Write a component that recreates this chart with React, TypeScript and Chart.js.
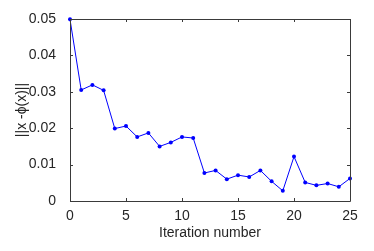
import React, { useEffect, useRef } from "react";
import { Chart, registerables } from "chart.js";

Chart.register(...registerables);

const iterations = [0, 1, 2, 3, 4, 5, 6, 7, 8, 9, 10, 11, 12, 13, 14, 15, 16, 17, 18, 19, 20, 21, 22, 23, 24, 25];
const residuals = [
  0.0499, 0.0305, 0.0319, 0.0304, 0.0199, 0.0206, 0.0176, 0.0187, 0.015, 0.0161,
  0.0176, 0.0173, 0.0077, 0.0084, 0.006, 0.0071, 0.0066, 0.0084, 0.0054, 0.0028,
  0.0122, 0.0051, 0.0043, 0.0048, 0.0039, 0.0062,
];
const xTitle = "Iteration number";
const yTitle = "||x -ϕ(x)||";

const FONT = "'Liberation Sans', Arial, Helvetica, sans-serif";
const TEXT = "#262626";
const AXIS = "#3a3a3a";

const boxPlugin = {
  id: "matlabBox",
  afterDatasetsDraw(chart: any) {
    const { ctx, chartArea, scales } = chart;
    const { left, right, top, bottom } = chartArea;
    ctx.save();
    ctx.strokeStyle = AXIS;
    ctx.lineWidth = 1;
    ctx.beginPath();
    ctx.rect(Math.round(left) + 0.5, Math.round(top) + 0.5, Math.round(right - left), Math.round(bottom - top));
    ctx.stroke();
    const tl = 3;
    ctx.beginPath();
    scales.x.ticks.forEach((t: any) => {
      const px = Math.round(scales.x.getPixelForValue(t.value)) + 0.5;
      ctx.moveTo(px, bottom);
      ctx.lineTo(px, bottom - tl);
      ctx.moveTo(px, top);
      ctx.lineTo(px, top + tl);
    });
    scales.y.ticks.forEach((t: any) => {
      const py = Math.round(scales.y.getPixelForValue(t.value)) + 0.5;
      ctx.moveTo(left, py);
      ctx.lineTo(left + tl, py);
      ctx.moveTo(right, py);
      ctx.lineTo(right - tl, py);
    });
    ctx.stroke();
    ctx.restore();
  },
};

export default function App() {
  const ref = useRef<HTMLCanvasElement | null>(null);
  useEffect(() => {
    if (!ref.current) return;
    const chart = new Chart(ref.current, {
      type: "line",
      data: {
        datasets: [
          {
            data: iterations.map((x, i) => ({ x, y: residuals[i] })),
            borderColor: "#0000ff",
            backgroundColor: "#0000ff",
            borderWidth: 1,
            pointRadius: 2,
            pointStyle: "circle",
            pointBorderWidth: 0,
            tension: 0,
            clip: 6,
          } as any,
        ],
      },
      options: {
        responsive: false,
        animation: false,
        layout: { padding: { top: 19, right: 24, left: 0, bottom: 0 } },
        plugins: { legend: { display: false }, tooltip: { enabled: false } },
        scales: {
          x: {
            type: "linear",
            min: 0,
            max: 25,
            grid: { display: false },
            border: { display: false },
            ticks: {
              stepSize: 5,
              color: TEXT,
              font: { family: FONT, size: 14 },
              padding: -1,
              maxRotation: 0,
            },
            title: {
              display: true,
              text: xTitle,
              color: TEXT,
              font: { family: FONT, size: 14 },
              padding: { top: 0, bottom: 9 },
            },
            afterFit(scale: any) {
              scale.height = 50;
            },
          },
          y: {
            type: "linear",
            min: 0,
            max: 0.05,
            grid: { display: false },
            border: { display: false },
            ticks: {
              stepSize: 0.01,
              color: TEXT,
              font: { family: FONT, size: 14 },
              padding: 6,
              callback: (v: any) => String(Number(Number(v).toFixed(2))),
            },
            title: {
              display: true,
              text: yTitle,
              color: TEXT,
              font: { family: FONT, size: 14 },
              padding: { top: 14, bottom: 0 },
            },
            afterFit(scale: any) {
              scale.width = 70;
            },
          },
        },
      },
      plugins: [boxPlugin],
    });
    return () => chart.destroy();
  }, []);
  return (
    <div style={{ position: "absolute", left: 0, top: 0, width: 374, height: 251, background: "#fff" }}>
      <canvas ref={ref} width={374} height={251} style={{ display: "block" }} />
    </div>
  );
}
